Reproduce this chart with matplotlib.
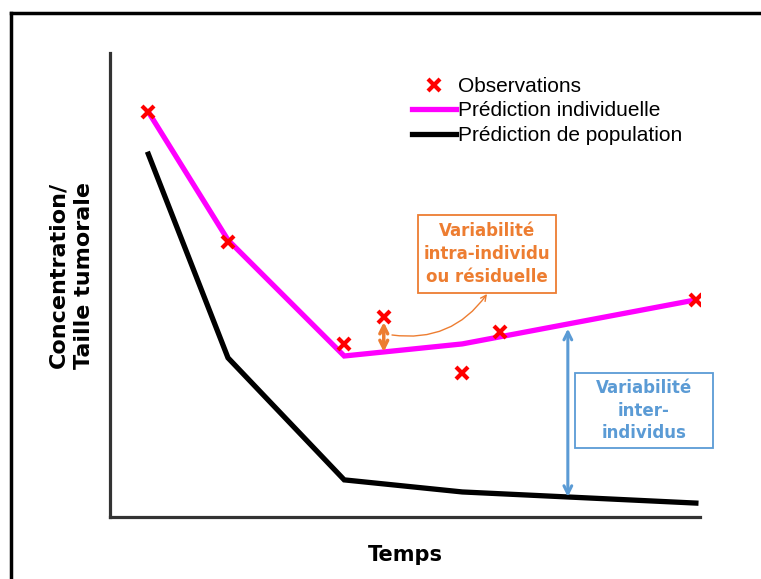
import matplotlib
matplotlib.use("Agg")
import matplotlib.pyplot as plt
from matplotlib.lines import Line2D
from matplotlib.patches import Rectangle
import numpy as np

# Time points of the two model predictions
temps = [0.65, 2.0, 3.97, 5.97, 9.93]
pred_individuelle = [8.73, 5.97, 3.47, 3.73, 4.68]
pred_population = [7.82, 3.43, 0.80, 0.54, 0.30]

# Observed points (red crosses)
obs_temps = [0.65, 2.0, 3.97, 4.64, 6.61, 5.97, 9.93]
obs_valeurs = [8.73, 5.93, 3.73, 4.30, 3.99, 3.10, 4.68]

# Positions of the two variability arrows
t_intra = 4.64
t_inter = 7.76

ORANGE = "#ED7D31"
BLEU = "#5B9BD5"
W, H = 761, 579


def fig_xy(px, py):
    """Pixel position (from top-left) to figure fraction."""
    return px / W, 1 - py / H


def main():
    fig = plt.figure(figsize=(7.61, 5.79), dpi=100)
    x0, y1 = fig_xy(110, 53)
    x1, y0 = fig_xy(700, 517)
    ax = fig.add_axes([x0, y0, x1 - x0, y1 - y0])
    ax.set_xlim(0, 10)
    ax.set_ylim(0, 10)

    ax.plot(temps, pred_population, color="black", lw=3.8,
            solid_joinstyle="miter", label="Prédiction de population")
    ax.plot(temps, pred_individuelle, color="#FF00FF", lw=3.8,
            solid_joinstyle="miter", label="Prédiction individuelle")
    ax.plot(obs_temps, obs_valeurs, linestyle="none", marker="x",
            color="red", ms=8, mew=3, label="Observations", zorder=5)

    # axes look
    for s in ["top", "right"]:
        ax.spines[s].set_visible(False)
    for s in ["left", "bottom"]:
        ax.spines[s].set_color("#333333")
        ax.spines[s].set_linewidth(2.3)
    ax.set_xticks([])
    ax.set_yticks([])

    # legend in the order of the original
    h, l = ax.get_legend_handles_labels()
    order = [2, 1, 0]
    lx, ly = fig_xy(412, 77)
    ax.legend([h[i] for i in order], [l[i] for i in order],
              loc="upper left", bbox_to_anchor=(lx, ly),
              bbox_transform=fig.transFigure, frameon=False,
              handlelength=2.1, handletextpad=0.1,
              labelspacing=0.26, borderpad=0, borderaxespad=0,
              prop={"family": "Liberation Sans", "size": 15})

    # intra-individual variability
    y_ind = np.interp(t_intra, temps, pred_individuelle)
    y_obs = obs_valeurs[obs_temps.index(t_intra)]
    ax.annotate("", xy=(t_intra, y_obs - 0.1), xytext=(t_intra, y_ind),
                arrowprops=dict(arrowstyle="<->", color=ORANGE, lw=2.5,
                                shrinkA=0, shrinkB=0, mutation_scale=14))
    bx, by = fig_xy(487, 294)
    sx, sy = fig_xy(392, 335)
    ax.annotate("", xy=(bx, by), xycoords="figure fraction",
                xytext=(sx, sy), textcoords="figure fraction",
                arrowprops=dict(arrowstyle="->", color=ORANGE, lw=1.0,
                                connectionstyle="arc3,rad=0.3",
                                shrinkA=0, shrinkB=0))
    rx0, ry1 = fig_xy(418, 215)
    rx1, ry0 = fig_xy(556, 293)
    fig.add_artist(Rectangle((rx0, ry0), rx1 - rx0, ry1 - ry0,
                             transform=fig.transFigure, fill=False,
                             edgecolor=ORANGE, lw=1.3))
    fig.text((rx0 + rx1) / 2, (ry0 + ry1) / 2,
             "Variabilité\nintra-individu\nou résiduelle",
             ha="center", va="center", color=ORANGE, fontsize=12,
             fontweight="bold", linespacing=1.35, family="DejaVu Sans")

    # inter-individual variability
    y_top = np.interp(t_inter, temps, pred_individuelle)
    y_bot = np.interp(t_inter, temps, pred_population)
    ax.annotate("", xy=(t_inter, y_top - 0.1), xytext=(t_inter, y_bot),
                arrowprops=dict(arrowstyle="<->", color=BLEU, lw=2.2,
                                shrinkA=0, shrinkB=0, mutation_scale=14))
    rx0, ry1 = fig_xy(575, 373)
    rx1, ry0 = fig_xy(713, 448)
    fig.add_artist(Rectangle((rx0, ry0), rx1 - rx0, ry1 - ry0,
                             transform=fig.transFigure, fill=False,
                             edgecolor=BLEU, lw=1.3))
    fig.text((rx0 + rx1) / 2, (ry0 + ry1) / 2,
             "Variabilité\ninter-\nindividus",
             ha="center", va="center", color=BLEU, fontsize=12,
             fontweight="bold", linespacing=1.35, family="DejaVu Sans")

    # axis titles
    tx, ty = fig_xy(405, 555)
    fig.text(tx, ty, "Temps", ha="center", va="center", fontsize=15,
             fontweight="bold", family="DejaVu Sans")
    tx, ty = fig_xy(71, 275)
    fig.text(tx, ty, "Concentration/\nTaille tumorale", ha="center",
             va="center", rotation=90, fontsize=16, fontweight="bold",
             linespacing=1.35, family="DejaVu Sans")

    # outer frame (top and left edges only are visible)
    fx, fy = fig_xy(11, 13)
    fig.add_artist(Line2D([fx, 1], [fy, fy], transform=fig.transFigure,
                          color="black", lw=2.5))
    fig.add_artist(Line2D([fx, fx], [fy, 0], transform=fig.transFigure,
                          color="black", lw=2.5))

    fig.savefig("out.png", dpi=100)


if __name__ == "__main__":
    main()
